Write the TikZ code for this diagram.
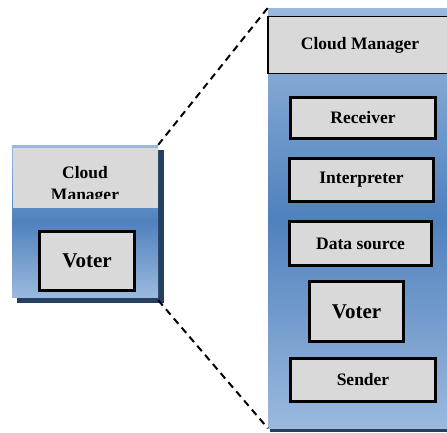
\documentclass[tikz,border=0pt]{standalone}
\usepackage{fontspec}
\setmainfont{Liberation Serif}
\usetikzlibrary{calc}
\definecolor{bluemid}{HTML}{4F81BD}
\definecolor{bluelight}{HTML}{9BB9DE}
\definecolor{navy}{HTML}{243F60}
\definecolor{boxgrey}{HTML}{D9D9D9}
\tikzset{
  panel/.style={rectangle, inner sep=0pt, top color=bluelight, bottom color=bluelight, middle color=bluemid},
  header/.style={rectangle, inner sep=0pt, fill=boxgrey},
  part/.style={rectangle, inner sep=0pt, fill=boxgrey, draw=black, line width=2.8pt,
    font=\fontsize{17.5}{20}\selectfont\bfseries},
  bigpart/.style={part, font=\fontsize{21}{24}\selectfont\bfseries},
  zoomline/.style={line width=2pt, dash pattern=on 7pt off 5pt}
}
\begin{document}
\begin{tikzpicture}[x=1pt,y=-1pt]
\useasboundingbox (0,0) rectangle (447,432);

% small cloud manager
\fill[navy] (17,150) rectangle (164,303);
\node[panel, minimum width=146pt, minimum height=152pt] (small) at (85,221) {};
\node[header, minimum width=145pt, minimum height=60pt] (smallhead) at (85.5,178) {};
\begin{scope}
  \clip (13,148) rectangle (158,198);
  \node[align=center, font=\fontsize{17.5}{22}\selectfont\bfseries] (smalltitle) at (85,185.5) {Cloud\\Manager};
\end{scope}
\node[bigpart, minimum width=95pt, minimum height=59pt] (smallvoter) at (87,261) {Voter};

% expanded cloud manager
\fill[navy] (270,12) rectangle (455,432);
\node[panel, minimum width=184pt, minimum height=420pt] (big) at (360,218) {};
\node[header, draw=black, line width=1.6pt, minimum width=184pt, minimum height=57pt] (bighead) at (360,45) {};
\node[font=\fontsize{17.5}{20}\selectfont\bfseries] (bigtitle) at (bighead.center) {Cloud Manager};

\node[part, minimum width=145pt, minimum height=41pt] (receiver) at (363,118) {Receiver};
\node[part, minimum width=144pt, minimum height=43pt] (interp) at (361.5,180) {Interpreter};
\node[part, minimum width=142pt, minimum height=44pt] (data) at (360.5,243.5) {Data source};
\node[bigpart, minimum width=94pt, minimum height=60pt] (voter) at (356.5,311.5) {Voter};
\node[part, minimum width=145pt, minimum height=43pt] (sender) at (363,380) {Sender};

% zoom guides
\draw[zoomline] (small.north east) -- (big.north west);
\draw[zoomline] ($(small.south east)+(0,3)$) -- (big.south west);
\end{tikzpicture}
\end{document}
